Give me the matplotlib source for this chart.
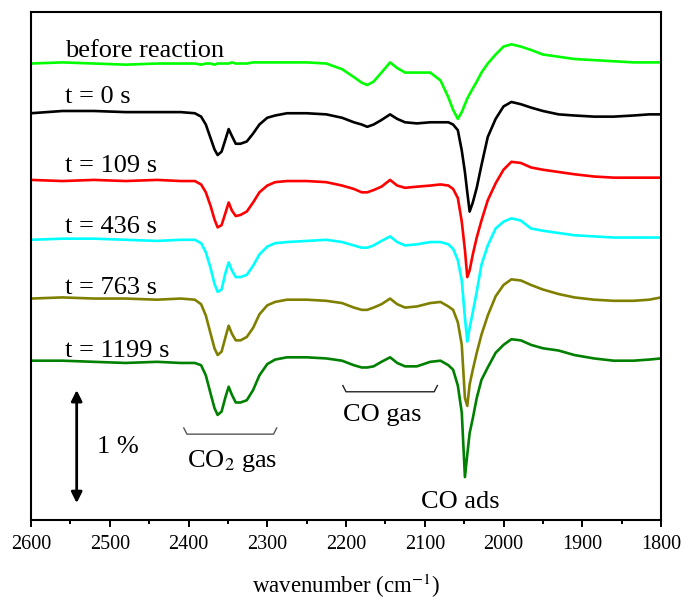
import numpy as np
import matplotlib
matplotlib.use('Agg')
import matplotlib.pyplot as plt
from matplotlib.ticker import MultipleLocator

plt.rcParams['font.family'] = ['Liberation Serif', 'DejaVu Serif']
plt.rcParams['mathtext.fontset'] = 'stix'

# wavenumber grid (cm-1)
wn = [2600, 2560, 2520, 2480, 2440, 2410, 2392, 2384, 2378, 2372,
      2367, 2363, 2358, 2353, 2349, 2345, 2340, 2334, 2326, 2318,
      2310, 2300, 2290, 2275, 2250, 2225, 2205, 2190, 2180, 2173,
      2165, 2155, 2144, 2135, 2125, 2110, 2093, 2080, 2070, 2064,
      2058, 2053, 2049, 2046, 2043, 2039, 2034, 2028, 2020, 2010,
      2000, 1990, 1978, 1965, 1950, 1930, 1910, 1885, 1860, 1835,
      1815, 1800]

# stacked spectra, transmittance in % (offsets as in the figure)
before = [4.04, 4.05, 4.04, 4.03, 4.04, 4.04, 4.04, 4.03, 4.04, 4.04,
          4.03, 4.04, 4.04, 4.04, 4.04, 4.05, 4.04, 4.04, 4.04, 4.05,
          4.05, 4.05, 4.05, 4.05, 4.05, 4.04, 3.99, 3.92, 3.87, 3.85,
          3.88, 3.96, 4.05, 4.00, 3.96, 3.96, 3.96, 3.89, 3.74, 3.63,
          3.55, 3.61, 3.68, 3.73, 3.77, 3.82, 3.88, 3.96, 4.04, 4.12,
          4.19, 4.21, 4.19, 4.16, 4.12, 4.10, 4.08, 4.07, 4.06, 4.05,
          4.05, 4.05]
t0 = [3.60, 3.62, 3.62, 3.61, 3.61, 3.61, 3.60, 3.57, 3.50, 3.38,
      3.28, 3.23, 3.26, 3.37, 3.46, 3.40, 3.33, 3.33, 3.35, 3.42,
      3.50, 3.56, 3.58, 3.60, 3.60, 3.59, 3.56, 3.52, 3.50, 3.48,
      3.50, 3.54, 3.59, 3.55, 3.52, 3.51, 3.52, 3.52, 3.52, 3.50,
      3.45, 3.27, 3.08, 2.90, 2.73, 2.81, 2.94, 3.14, 3.39, 3.55,
      3.66, 3.70, 3.68, 3.65, 3.62, 3.59, 3.58, 3.57, 3.57, 3.58,
      3.59, 3.59]
t109 = [3.01, 3.00, 3.01, 3.00, 3.01, 3.00, 3.00, 2.97, 2.90, 2.78,
        2.66, 2.59, 2.61, 2.72, 2.81, 2.74, 2.69, 2.70, 2.73, 2.81,
        2.90, 2.96, 2.99, 3.00, 3.00, 2.99, 2.96, 2.93, 2.90, 2.90,
        2.92, 2.95, 3.01, 2.96, 2.94, 2.95, 2.96, 2.97, 2.96, 2.93,
        2.85, 2.64, 2.39, 2.15, 2.21, 2.35, 2.50, 2.65, 2.83, 2.98,
        3.10, 3.17, 3.16, 3.12, 3.10, 3.08, 3.06, 3.04, 3.03, 3.03,
        3.03, 3.03]
t436 = [2.48, 2.49, 2.49, 2.48, 2.47, 2.48, 2.48, 2.45, 2.37, 2.23,
        2.09, 2.02, 2.04, 2.19, 2.28, 2.21, 2.15, 2.15, 2.17, 2.25,
        2.35, 2.42, 2.45, 2.46, 2.47, 2.48, 2.46, 2.43, 2.41, 2.41,
        2.43, 2.47, 2.51, 2.46, 2.43, 2.44, 2.46, 2.46, 2.44, 2.40,
        2.30, 2.12, 1.79, 1.58, 1.70, 1.84, 2.02, 2.26, 2.43, 2.58,
        2.64, 2.67, 2.65, 2.58, 2.56, 2.54, 2.52, 2.51, 2.50, 2.50,
        2.50, 2.50]
t763 = [1.96, 1.97, 1.96, 1.96, 1.95, 1.96, 1.95, 1.91, 1.81, 1.65,
        1.52, 1.46, 1.49, 1.62, 1.72, 1.65, 1.59, 1.59, 1.62, 1.70,
        1.82, 1.90, 1.93, 1.95, 1.95, 1.94, 1.92, 1.88, 1.86, 1.86,
        1.88, 1.91, 1.96, 1.91, 1.88, 1.89, 1.92, 1.93, 1.89, 1.86,
        1.75, 1.55, 1.08, 1.01, 1.20, 1.33, 1.48, 1.64, 1.81, 1.98,
        2.08, 2.13, 2.12, 2.08, 2.04, 2.00, 1.97, 1.95, 1.94, 1.94,
        1.95, 1.97]
t1199 = [1.41, 1.41, 1.40, 1.39, 1.40, 1.39, 1.39, 1.37, 1.28, 1.12,
         0.99, 0.93, 0.96, 1.09, 1.18, 1.11, 1.04, 1.04, 1.06, 1.15,
         1.28, 1.38, 1.42, 1.44, 1.44, 1.43, 1.41, 1.37, 1.35, 1.35,
         1.36, 1.40, 1.44, 1.39, 1.36, 1.36, 1.40, 1.41, 1.37, 1.33,
         1.19, 0.95, 0.38, 0.58, 0.77, 0.90, 1.08, 1.24, 1.35, 1.48,
         1.55, 1.60, 1.59, 1.55, 1.52, 1.50, 1.46, 1.43, 1.41, 1.41,
         1.42, 1.43]

spectra = [before, t0, t109, t436, t763, t1199]
labels = ['before reaction', 't = 0 s', 't = 109 s', 't = 436 s', 't = 763 s', 't = 1199 s']
label_y = [4.10, 3.69, 3.08, 2.54, 2.00, 1.445]
colors = ['#00ff00', 'black', '#ff0000', '#00ffff', '#808000', '#008000']

fig = plt.figure(figsize=(6.83, 6.0), dpi=100)
ax = fig.add_axes([0.0454, 0.1333, 0.9224, 0.8467])

for y, c in zip(spectra, colors):
    ax.plot(wn, y, color=c, lw=1.9, solid_joinstyle='round')

for lab, ly in zip(labels, label_y):
    ax.text(2557, ly, lab, fontsize=19, va='baseline', ha='left')

# 1 % scale bar
ax.annotate('', xy=(2542, 0.15), xytext=(2542, 1.15),
            arrowprops=dict(arrowstyle='<|-|>', color='black', lw=2,
                            mutation_scale=16, shrinkA=0, shrinkB=0))
ax.text(2516, 0.59, '1 %', fontsize=19, va='baseline', ha='left')

# brackets
ax.plot([2406, 2402, 2292, 2288], [0.815, 0.76, 0.76, 0.815], color='#555555', lw=1)
ax.text(2345, 0.47, 'CO$_2$ gas', fontsize=19, va='baseline', ha='center')
ax.plot([2204, 2200, 2088, 2084], [1.19, 1.135, 1.135, 1.19], color='#222222', lw=1)
ax.text(2154, 0.876, 'CO gas', fontsize=19, va='baseline', ha='center')
ax.text(2055, 0.106, 'CO ads', fontsize=19, va='baseline', ha='center')

ax.set_xlim(2600, 1800)
ax.set_ylim(0, 4.496)
ax.xaxis.set_major_locator(MultipleLocator(100))
ax.xaxis.set_minor_locator(MultipleLocator(50))
ax.tick_params(axis='x', which='major', direction='out', length=5, width=1.4, labelsize=14.5, pad=6)
ax.tick_params(axis='x', which='minor', direction='out', length=3, width=1.4)
ax.set_yticks([])
for s in ax.spines.values():
    s.set_linewidth(1.5)
ax.set_xlabel('wavenumber (cm$^{-1}$)', fontsize=16.5, labelpad=13)

fig.savefig('out.png', dpi=100)
